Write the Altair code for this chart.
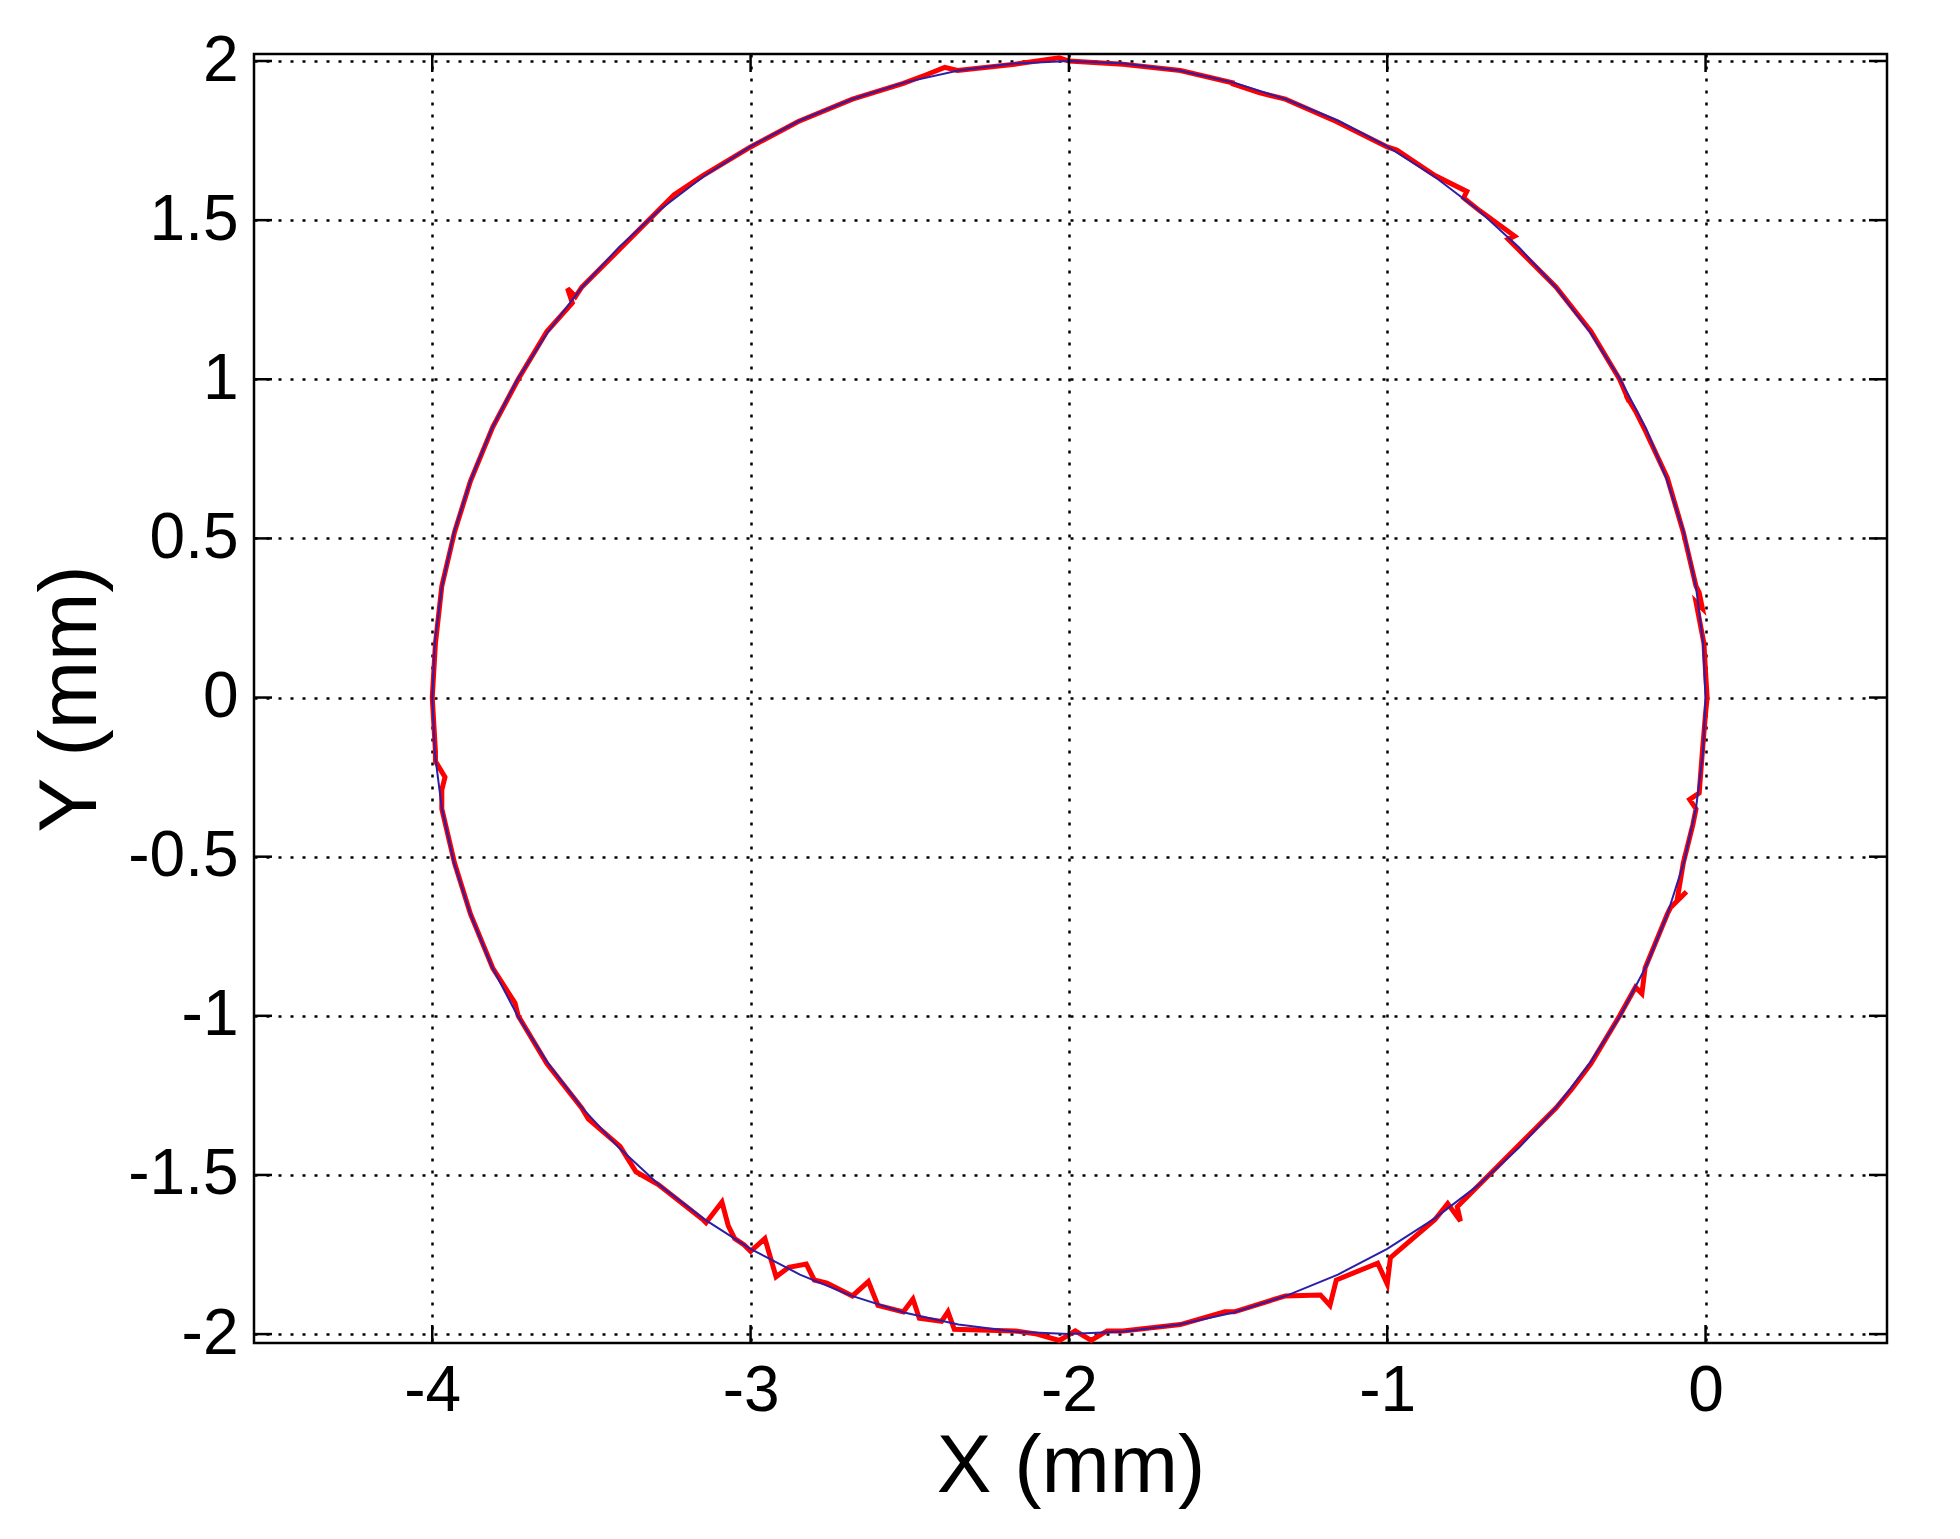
import altair as alt
import pandas as pd

# Reference trajectory (blue)
REF_X = [0.000, -0.008, -0.030, -0.068, -0.121, -0.187, -0.268, -0.362, -0.468, -0.586,
         -0.714, -0.853, -1.000, -1.155, -1.316, -1.482, -1.653, -1.826, -2.000, -2.174,
         -2.347, -2.518, -2.684, -2.845, -3.000, -3.147, -3.286, -3.414, -3.532, -3.638,
         -3.732, -3.813, -3.879, -3.932, -3.970, -3.992, -4.000, -3.992, -3.970, -3.932,
         -3.879, -3.813, -3.732, -3.638, -3.532, -3.414, -3.286, -3.147, -3.000, -2.845,
         -2.684, -2.518, -2.347, -2.174, -2.000, -1.826, -1.653, -1.482, -1.316, -1.155,
         -1.000, -0.853, -0.714, -0.586, -0.468, -0.362, -0.268, -0.187, -0.121, -0.068,
         -0.030, -0.008, 0.000]
REF_Y = [0.000, 0.174, 0.347, 0.518, 0.684, 0.845, 1.000, 1.147, 1.286, 1.414,
         1.532, 1.638, 1.732, 1.813, 1.879, 1.932, 1.970, 1.992, 2.000, 1.992,
         1.970, 1.932, 1.879, 1.813, 1.732, 1.638, 1.532, 1.414, 1.286, 1.147,
         1.000, 0.845, 0.684, 0.518, 0.347, 0.174, 0.000, -0.174, -0.347, -0.518,
         -0.684, -0.845, -1.000, -1.147, -1.286, -1.414, -1.532, -1.638, -1.732, -1.813,
         -1.879, -1.932, -1.970, -1.992, -2.000, -1.992, -1.970, -1.932, -1.879, -1.813,
         -1.732, -1.638, -1.532, -1.414, -1.286, -1.147, -1.000, -0.845, -0.684, -0.518,
         -0.347, -0.174, 0.000]

MEAS_X = [0.005, 0.000, -0.005, -0.030, -0.010, -0.020, -0.030, -0.070, -0.120, -0.190,
          -0.220, -0.250, -0.240, -0.270, -0.360, -0.470, -0.590, -0.620, -0.600, -0.710,
          -0.760, -0.750, -0.850, -0.970, -1.000, -1.160, -1.320, -1.400, -1.490, -1.480,
          -1.650, -1.830, -2.000, -2.030, -2.170, -2.350, -2.390, -2.450, -2.520, -2.680,
          -2.850, -3.000, -3.150, -3.240, -3.290, -3.410, -3.530, -3.550, -3.575, -3.560,
          -3.640, -3.730, -3.810, -3.880, -3.930, -3.970, -3.990, -4.000, -3.990, -3.990,
          -3.960, -3.970, -3.970, -3.930, -3.880, -3.810, -3.740, -3.730, -3.640, -3.530,
          -3.510, -3.410, -3.360, -3.290, -3.150, -3.140, -3.090, -3.070, -3.050, -3.020,
          -3.000, -2.955, -2.920, -2.880, -2.825, -2.800, -2.760, -2.680, -2.630, -2.600,
          -2.520, -2.490, -2.470, -2.400, -2.380, -2.360, -2.170, -2.100, -2.030, -1.980,
          -1.930, -1.880, -1.830, -1.650, -1.510, -1.480, -1.320, -1.210, -1.180, -1.160,
          -1.030, -1.000, -0.990, -0.850, -0.810, -0.770, -0.780, -0.710, -0.590, -0.470,
          -0.420, -0.360, -0.270, -0.220, -0.200, -0.190, -0.120, -0.110, -0.060, -0.090,
          -0.070, -0.040, -0.030, -0.050, -0.020, -0.010, 0.000, 0.005]
MEAS_Y = [0.000, 0.080, 0.170, 0.300, 0.280, 0.330, 0.350, 0.520, 0.690, 0.840,
          0.900, 0.950, 0.930, 1.000, 1.150, 1.290, 1.410, 1.440, 1.450, 1.530,
          1.570, 1.590, 1.640, 1.720, 1.730, 1.810, 1.880, 1.900, 1.930, 1.930,
          1.970, 1.990, 2.000, 2.010, 1.990, 1.970, 1.980, 1.956, 1.930, 1.880,
          1.810, 1.730, 1.640, 1.580, 1.530, 1.410, 1.290, 1.260, 1.285, 1.240,
          1.150, 1.000, 0.850, 0.680, 0.520, 0.350, 0.170, 0.000, -0.170, -0.200,
          -0.250, -0.290, -0.350, -0.520, -0.680, -0.850, -0.960, -1.000, -1.150, -1.290,
          -1.324, -1.410, -1.490, -1.530, -1.640, -1.650, -1.585, -1.660, -1.700, -1.720,
          -1.740, -1.700, -1.820, -1.790, -1.780, -1.830, -1.840, -1.880, -1.835, -1.910,
          -1.930, -1.890, -1.950, -1.960, -1.930, -1.985, -1.990, -2.000, -2.020, -1.990,
          -2.020, -1.990, -1.990, -1.970, -1.930, -1.930, -1.880, -1.877, -1.910, -1.830,
          -1.777, -1.843, -1.760, -1.640, -1.590, -1.645, -1.600, -1.530, -1.410, -1.290,
          -1.230, -1.150, -1.000, -0.910, -0.930, -0.850, -0.680, -0.660, -0.610, -0.640,
          -0.520, -0.400, -0.350, -0.320, -0.300, -0.170, -0.050, 0.000]

X_TICKS = [-4, -3, -2, -1, 0]
Y_TICKS = [-2, -1.5, -1, -0.5, 0, 0.5, 1, 1.5, 2]
X_DOMAIN = [-4.56, 0.57]
Y_DOMAIN = [-2.028, 2.022]

W, H = 1633, 1289
TICK_LEN = 18
FONT = "Liberation Sans"

ref = pd.DataFrame({"x": REF_X, "y": REF_Y, "i": list(range(len(REF_X)))})
meas = pd.DataFrame({"x": MEAS_X, "y": MEAS_Y, "i": list(range(len(MEAS_X)))})
xt = pd.DataFrame({"x": X_TICKS})
yt = pd.DataFrame({"y": Y_TICKS})

xscale = alt.Scale(domain=X_DOMAIN, nice=False, zero=False)
yscale = alt.Scale(domain=Y_DOMAIN, nice=False, zero=False)

common_axis = dict(grid=True, gridColor="black", gridDash=[3, 9], gridWidth=2.5,
                   gridOpacity=1, ticks=False, domain=False, labelExpr="toString(datum.value)",
                   labelFontSize=64, labelFont=FONT, labelColor="black", labelPadding=16,
                   titleFontSize=82, titleFont=FONT, titleFontWeight="normal",
                   titleColor="black")
xaxis = alt.Axis(values=X_TICKS, title="X (mm)", titlePadding=3, **common_axis)
yaxis = alt.Axis(values=Y_TICKS, title="Y (mm)", titlePadding=15, **common_axis)

X = alt.X("x:Q", scale=xscale, axis=xaxis)
Y = alt.Y("y:Q", scale=yscale, axis=yaxis)

red = alt.Chart(meas).mark_line(color="#ff0000", strokeWidth=5, strokeJoin="miter").encode(
    x=X, y=Y, order=alt.Order("i:Q"),
)
blue = alt.Chart(ref).mark_line(color="#2a1fa8", strokeWidth=2).encode(
    x=X, y=Y, order=alt.Order("i:Q"),
)

tick_style = dict(color="black", strokeWidth=2.5)
xb = alt.Chart(xt).mark_rule(**tick_style).encode(
    x=X, y=alt.value(H), y2=alt.value(H - TICK_LEN))
xtop = alt.Chart(xt).mark_rule(**tick_style).encode(
    x=X, y=alt.value(0), y2=alt.value(TICK_LEN))
yl = alt.Chart(yt).mark_rule(**tick_style).encode(
    y=Y, x=alt.value(0), x2=alt.value(TICK_LEN))
yr = alt.Chart(yt).mark_rule(**tick_style).encode(
    y=Y, x=alt.value(W), x2=alt.value(W - TICK_LEN))

chart = alt.layer(red, blue, xb, xtop, yl, yr).properties(
    width=W, height=H,
    autosize=alt.AutoSizeParams(type="none"),
    padding={"left": 246, "top": 46, "right": 60, "bottom": 180},
    background="white",
).configure_view(stroke="black", strokeWidth=2.5)

chart.save("out.html", embed_options={"renderer": "svg", "actions": False})
